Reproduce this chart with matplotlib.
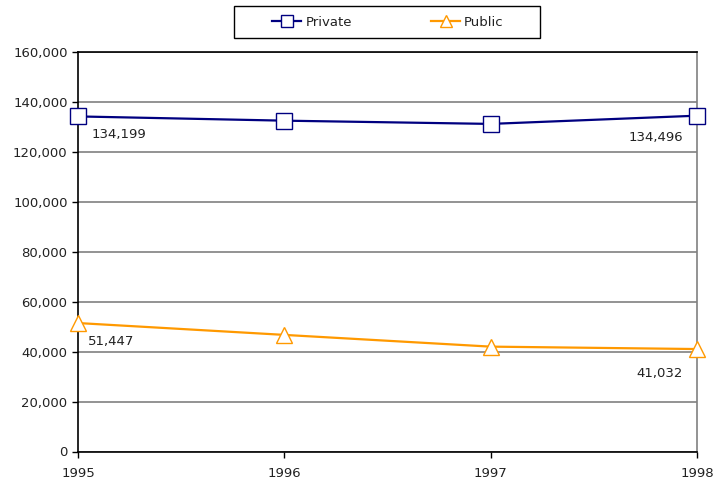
import matplotlib
matplotlib.use("Agg")
import matplotlib.pyplot as plt
from matplotlib.patches import Rectangle
from matplotlib.ticker import FuncFormatter

years = [1995, 1996, 1997, 1998]
private = [134199, 132500, 131200, 134496]
public = [51447, 46700, 42000, 41032]
yticks = list(range(0, 160001, 20000))

plt.rcParams['font.family'] = ['DejaVu Sans']
W, H = 713, 484
fig = plt.figure(figsize=(W/100, H/100), dpi=100)
ax = fig.add_axes([78/W, 1-451.5/H, (697-78)/W, (451.5-52)/H])

ax.plot(years, private, color='#000080', lw=1.6, marker='s', ms=11,
        mfc='white', mec='#000080', mew=1.0, clip_on=False, zorder=3, label='Private')
ax.plot(years, public, color='#FF9900', lw=1.6, marker='^', ms=12,
        mfc='white', mec='#FF9900', mew=1.0, clip_on=False, zorder=3, label='Public')

ax.set_xlim(1995, 1998)
ax.set_ylim(0, 160000)
ax.set_xticks(years)
ax.set_yticks(yticks)
ax.yaxis.set_major_formatter(FuncFormatter(lambda v, p: f"{int(v):,}"))
ax.grid(axis='y', color='#808080', lw=1.2)
ax.set_axisbelow(True)
for s in ['left', 'bottom', 'top']:
    ax.spines[s].set_color('black')
    ax.spines[s].set_linewidth(1.2)
ax.spines['right'].set_color('#808080')
ax.spines['right'].set_linewidth(1.2)
ax.tick_params(axis='both', colors='black', labelcolor='#222222', labelsize=9.5,
               length=4, width=1)
ax.tick_params(axis='x', pad=7)

def lab(x, y, text, dx, dy, ha):
    ax.annotate(f"{text:,}", (x, y), xytext=(dx, dy), textcoords='offset pixels',
                ha=ha, va='center', fontsize=9.5, color='#222222')

lab(years[0], private[0], private[0], 14, -18, 'left')
lab(years[-1], private[-1], private[-1], -14, -22, 'right')
lab(years[0], public[0], public[0], 10, -18, 'left')
lab(years[-1], public[-1], public[-1], -14, -24, 'right')

# legend frame
fig.patches.append(Rectangle((234/W, 1-38/H), (540-234)/W, 32/H,
                             transform=fig.transFigure, fill=False,
                             edgecolor='black', lw=1.0))
leg = fig.legend(loc='center', bbox_to_anchor=(388/W, 1-22/H), ncol=2,
                 frameon=False, fontsize=9.5,
                 columnspacing=6.0, handlelength=2.2, handletextpad=0.3,
                 borderpad=0, borderaxespad=0, markerscale=0.75)
for t in leg.get_texts():
    t.set_color('#222222')

fig.savefig('out.png', dpi=100)
